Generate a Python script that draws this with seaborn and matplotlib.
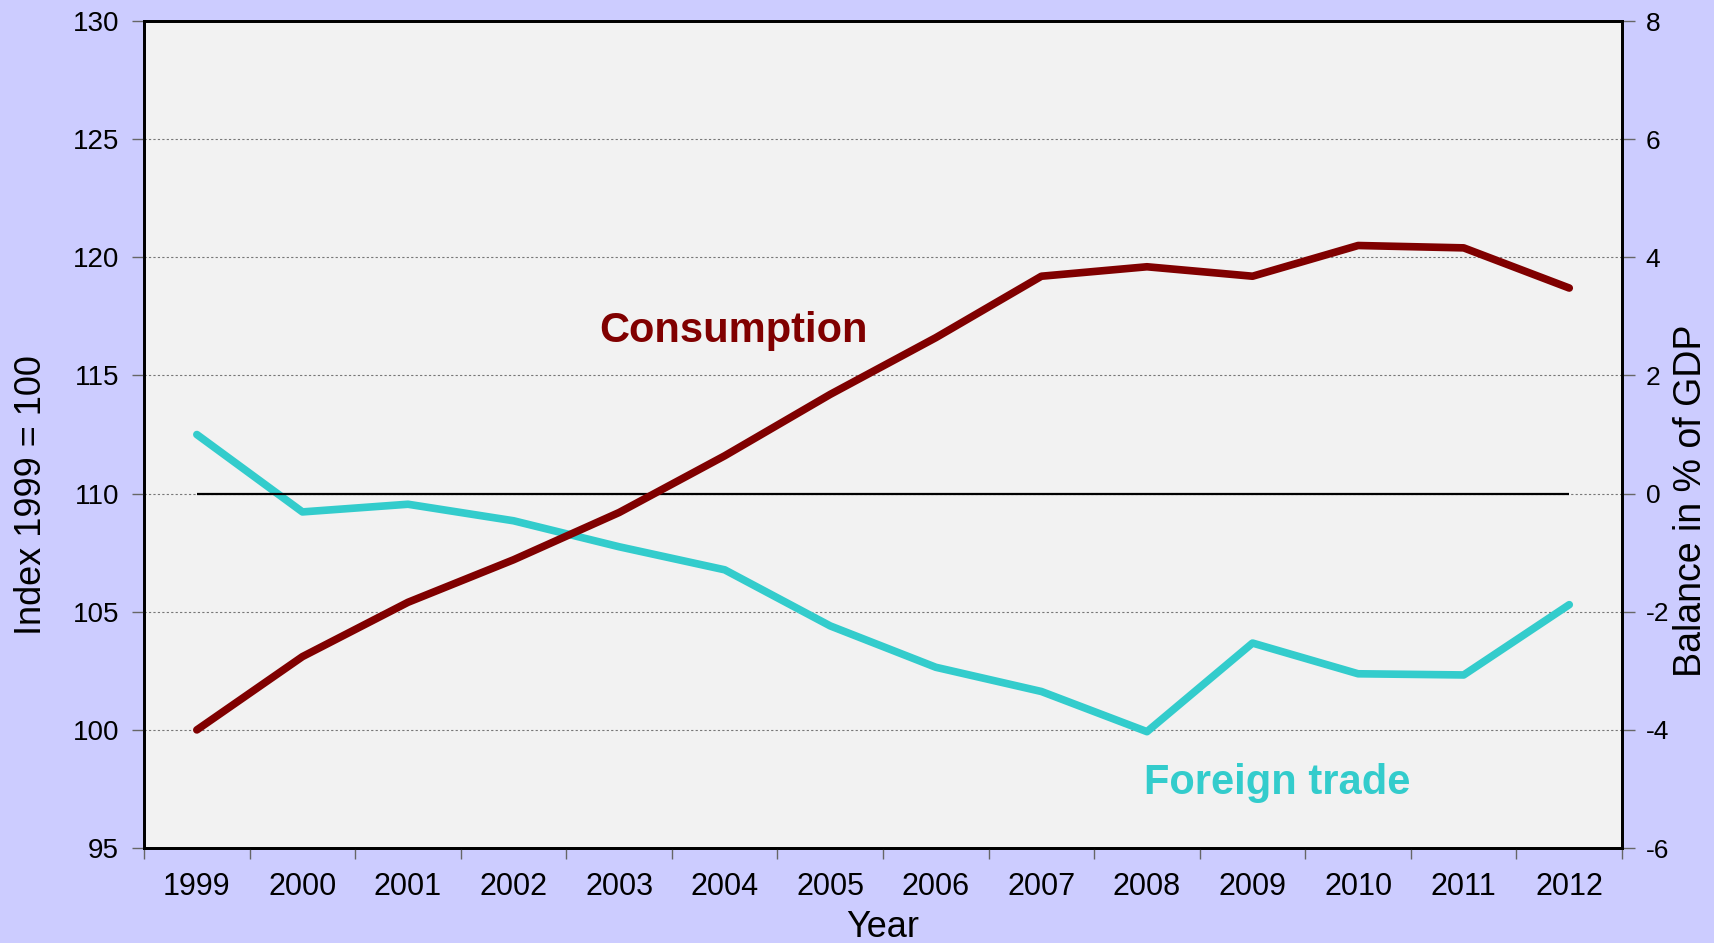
import seaborn as sns
import matplotlib.pyplot as plt
import matplotlib.ticker as mticker
import pandas as pd
import numpy as np

# Données
years = ["1999", "2000", "2001", "2002", "2003", "2004", "2005",
         "2006", "2007", "2008", "2009", "2010", "2011", "2012"]
consumption = [100.0, 103.1, 105.4, 107.2, 109.2, 111.6, 114.2,
               116.6, 119.2, 119.6, 119.2, 120.5, 120.4, 118.7]
foreign_trade = [1.0, -0.31, -0.18, -0.46, -0.9, -1.29, -2.24,
                 -2.94, -3.35, -4.03, -2.53, -3.05, -3.07, -1.88]

df = pd.DataFrame({"Year": years, "Consumption": consumption, "Foreign trade": foreign_trade})

sns.set_theme(style="white")
plt.rcParams['font.family'] = ['Liberation Sans', 'DejaVu Sans']
plt.rcParams['axes.unicode_minus'] = False
plt.rcParams['text.color'] = 'black'
plt.rcParams['axes.labelcolor'] = 'black'

fig = plt.figure(figsize=(17.15, 9.43), dpi=100, facecolor="#CCCCFF")
ax = fig.add_axes([0.084, 0.1007, 0.8618, 0.877])
ax2 = ax.twinx()

# axe de droite en dessous, axe de gauche au-dessus (ligne rouge devant)
ax.set_zorder(ax2.get_zorder() + 1)
ax.patch.set_visible(False)
ax2.patch.set_visible(True)
ax2.set_facecolor("#F2F2F2")

# Balance commerciale (axe droit)
sns.lineplot(data=df, x="Year", y="Foreign trade", ax=ax2, color="#33CCCC",
             linewidth=5.5, solid_capstyle="round", zorder=3)
ax2.hlines(0, 0, len(years) - 1, color="black", linewidth=1.6, zorder=4)

# Consommation (axe gauche)
sns.lineplot(data=df, x="Year", y="Consumption", ax=ax, color="#800000",
             linewidth=5.5, solid_capstyle="round", zorder=3)

ax.set_xlim(-0.5, len(years) - 0.5)
ax.set_ylim(95, 130)
ax2.set_ylim(-6, 8)
ax.set_yticks(np.arange(95, 131, 5))
ax2.set_yticks(np.arange(-6, 9, 2))

# ticks entre les catégories
ax.set_xticks(range(len(years)))
ax.set_xticklabels(years)
ax.xaxis.set_minor_locator(mticker.FixedLocator(np.arange(-0.5, len(years), 1)))
ax.tick_params(axis="x", which="major", length=0, pad=17, labelsize=22, colors="black")
ax.tick_params(axis="x", which="minor", bottom=True, length=8, width=1, color="#666666")
ax.tick_params(axis="y", which="major", left=True, length=9, width=1, color="#666666",
               pad=9, labelsize=20, labelcolor="black")
ax2.tick_params(axis="y", which="major", right=True, length=9, width=1, color="#666666",
                pad=8, labelsize=19, labelcolor="black")

# grille pointillée
ax2.grid(axis="y", color="#777777", linestyle=(0, (2, 2)), linewidth=0.8, zorder=0)
ax2.set_axisbelow(True)
ax.grid(False)

for a in (ax, ax2):
    for s in a.spines.values():
        s.set_color("black")
        s.set_linewidth(2)

ax.set_xlabel("Year", fontsize=26, labelpad=6)
ax.set_ylabel("Index 1999 = 100", fontsize=26)
ax2.set_ylabel("Balance in % of GDP", fontsize=27)
ax.yaxis.set_label_coords(-0.0643, 0.427)
ax2.yaxis.set_label_coords(1.0345, 0.42)

ax.text(0.3985, 0.625, "Consumption", transform=ax.transAxes, ha="center", va="center",
        fontsize=30, fontweight="bold", color="#800000")
ax.text(0.767, 0.079, "Foreign trade", transform=ax.transAxes, ha="center", va="center",
        fontsize=30, fontweight="bold", color="#33CCCC")

plt.savefig("out.png", dpi=100, facecolor=fig.get_facecolor())
